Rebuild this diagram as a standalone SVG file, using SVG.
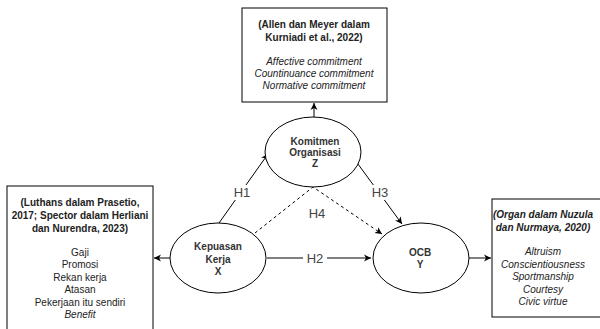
<svg xmlns="http://www.w3.org/2000/svg" width="600" height="329" viewBox="0 0 600 329">
<style>
text{font-family:"Liberation Sans",Arial,sans-serif;font-size:10px;fill:#222;text-anchor:middle}
.b{font-weight:bold}
.i{font-style:italic}
.n{font-weight:bold;fill:#333}
.box{fill:#fff;stroke:#000;stroke-width:1}
.el{fill:#fff;stroke:#000;stroke-width:1}
.c{stroke:#000;stroke-width:1;fill:none}
.d{stroke-dasharray:3 3}
.lbl{font-size:13px;fill:#444}
</style>
<defs>
<marker id="ah" markerWidth="8" markerHeight="8" refX="7" refY="4" orient="auto" markerUnits="userSpaceOnUse">
<path d="M0,0.5 L7,4 L0,7.5 L2,4 Z" fill="#000"/>
</marker>
</defs>
<g id="connectors">
<line class="c" x1="314" y1="118" x2="314" y2="103" marker-end="url(#ah)"/>
<line class="c" x1="170" y1="258" x2="154" y2="258" marker-end="url(#ah)"/>
<line class="c" x1="469" y1="258" x2="491" y2="258" marker-end="url(#ah)"/>
<line class="c" x1="219" y1="223" x2="268" y2="154" marker-end="url(#ah)"/>
<line class="c" x1="355" y1="160" x2="402" y2="224" marker-end="url(#ah)"/>
<line class="c" x1="267" y1="258" x2="371" y2="258" marker-end="url(#ah)"/>
<polyline class="c d" points="255,233 313,187 382,234" marker-end="url(#ah)"/>
<rect x="230" y="185" width="24" height="15" fill="#fff"/>
<text class="lbl" x="242" y="197">H1</text>
<rect x="368" y="185" width="24" height="15" fill="#fff"/>
<text class="lbl" x="380" y="197">H3</text>
<text class="lbl" x="317" y="218">H4</text>
<rect x="303" y="251" width="24" height="15" fill="#fff"/>
<text class="lbl" x="315" y="263">H2</text>
</g>
<g id="box-top">
<rect class="box" x="242" y="8" width="145" height="94"/>
<text class="b" x="314" y="28">(Allen dan Meyer dalam</text>
<text class="b" x="314" y="41">Kurniadi et al., 2022)</text>
<text class="i" x="314" y="65">Affective commitment</text>
<text class="i" x="314" y="77">Countinuance commitment</text>
<text class="i" x="314" y="89">Normative commitment</text>
</g>
<g id="box-left">
<rect class="box" x="7" y="186" width="146" height="150"/>
<text class="b" x="80" y="206">(Luthans dalam Prasetio,</text>
<text class="b" x="80" y="219">2017; Spector dalam Herliani</text>
<text class="b" x="80" y="232">dan Nurendra, 2023)</text>
<text x="80" y="256">Gaji</text>
<text x="80" y="268">Promosi</text>
<text x="80" y="281">Rekan kerja</text>
<text x="80" y="293">Atasan</text>
<text x="80" y="306">Pekerjaan itu sendiri</text>
<text class="i" x="80" y="318">Benefit</text>
</g>
<g id="box-right">
<rect class="box" x="492" y="199" width="115" height="118"/>
<text class="b i" x="543" y="218">(Organ dalam Nuzula</text>
<text class="b i" x="543" y="231">dan Nurmaya, 2020)</text>
<text class="i" x="543" y="255">Altruism</text>
<text class="i" x="543" y="268">Conscientiousness</text>
<text class="i" x="543" y="280">Sportmanship</text>
<text class="i" x="543" y="293">Courtesy</text>
<text class="i" x="543" y="305">Civic virtue</text>
</g>
<g id="node-z">
<ellipse class="el" cx="313" cy="152" rx="48" ry="35"/>
<text class="n" x="315" y="145">Komitmen</text>
<text class="n" x="315" y="156">Organisasi</text>
<text class="n" x="315" y="167">Z</text>
</g>
<g id="node-x">
<ellipse class="el" cx="218" cy="258" rx="48" ry="35"/>
<text class="n" x="218" y="250">Kepuasan</text>
<text class="n" x="218" y="263">Kerja</text>
<text class="n" x="218" y="275">X</text>
</g>
<g id="node-y">
<ellipse class="el" cx="421" cy="258" rx="48" ry="35"/>
<text class="n" x="420" y="256">OCB</text>
<text class="n" x="420" y="268">Y</text>
</g>
</svg>
